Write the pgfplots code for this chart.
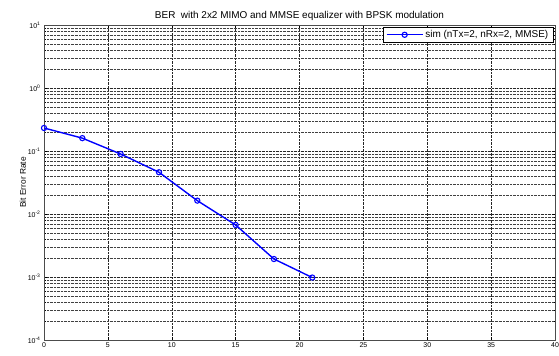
\documentclass[border=0pt]{standalone}
\usepackage{fontspec}
\setmainfont{Liberation Sans}
\usepackage{pgfplots}
\pgfplotsset{compat=1.18}
\begin{document}
\begin{tikzpicture}
\begin{axis}[
  scale only axis,
  width=511bp, height=315bp,
  xmin=0, xmax=40, ymin=1e-4, ymax=10,
  ymode=log,
  xtick={0,5,...,40},
  ytick={1e-4,1e-3,1e-2,1e-1,1,10},
  yticklabels={10\textsuperscript{-4},10\textsuperscript{-3},10\textsuperscript{-2},10\textsuperscript{-1},10\textsuperscript{0},10\textsuperscript{1}},
  /pgf/number format/assume math mode=true,
  tick label style={font=\fontsize{7}{8}\selectfont},
  xticklabel style={yshift=1pt},
  xmajorgrids, ymajorgrids, yminorgrids,
  major grid style={black!85, densely dotted, line width=0.4pt},
  minor grid style={black!75, densely dotted, line width=0.4pt},
  tick style={black, line width=0.4pt},
  major tick length=3bp, minor tick length=1.5bp,
  tick align=inside,
  axis line style={black!70, line width=0.5pt},
  title={BER\ \ with 2x2 MIMO and MMSE equalizer with BPSK modulation},
  title style={font=\fontsize{10}{11}\selectfont, yshift=-5bp},
  ylabel={Bit Error Rate},
  ylabel style={font=\fontsize{8.4}{9}\selectfont, yshift=-5bp},
  legend style={at={(0.997,0.993)}, anchor=north east, font=\fontsize{10}{11}\selectfont, draw=black, line width=0.5pt, inner xsep=3pt, inner ysep=1pt},
  legend cell align=left,
  legend image code/.code={\draw[mark repeat=2, mark phase=2, #1] plot coordinates {(0bp,0bp) (18bp,0bp) (36bp,0bp)};},
]
\addplot[color=blue, line width=1.4pt, mark=o, mark size=2.6bp, mark options={line width=1.1pt}] coordinates {
(0,0.232) (3,0.160) (6,0.0896) (9,0.046) (12,0.0163) (15,0.0067) (18,0.00193) (21,0.00098)
};
\addlegendentry{sim (nTx=2, nRx=2, MMSE)}
\end{axis}
\pgfresetboundingbox
\path ([xshift=-44bp,yshift=-16bp]current axis.south west) rectangle ([xshift=4bp,yshift=25bp]current axis.north east);
\end{tikzpicture}
\end{document}
